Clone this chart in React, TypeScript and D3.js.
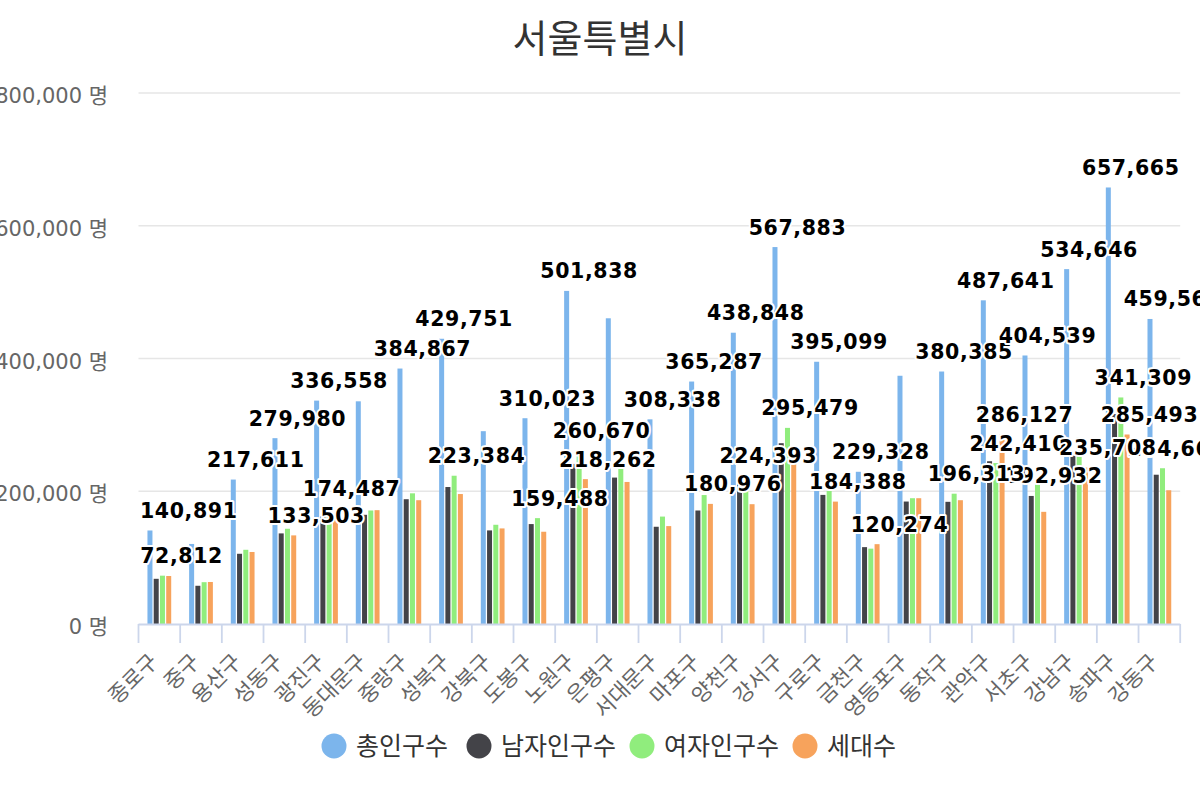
import React from 'react';
import * as d3 from 'd3';

const categories = ['종로구','중구','용산구','성동구','광진구','동대문구','중랑구','성북구','강북구','도봉구','노원구','은평구','서대문구','마포구','양천구','강서구','구로구','금천구','영등포구','동작구','관악구','서초구','강남구','송파구','강동구'];
const seriesNames = ['총인구수','남자인구수','여자인구수','세대수'];
const seriesColors = ['#7cb5ec','#434348','#90ed7d','#f7a35c'];

const totalPop = [140891,120600,217611,279980,336558,335500,384867,429751,290500,310023,501838,460600,308338,365287,438848,567883,395099,229328,374000,380385,487641,404539,534646,657665,459564];
const malePop = [68079,57600,105800,136500,162071,164500,188000,206367,141000,150535,241168,220600,146500,171000,214455,272404,194500,115800,184500,184072,245231,192932,254000,316356,224902];
const femalePop = [72812,63000,111811,143480,174487,171000,196867,223384,149500,159488,260670,240000,161838,194287,224393,295479,200599,113528,189500,196313,242410,211607,280646,341309,234662];
const households = [72300,63300,108500,133503,163000,171500,186500,195800,144000,139000,218262,214000,147500,180976,180500,268000,184388,120274,189500,186500,286127,169000,235708,285493,201500];

const yTicks = [0,200000,400000,600000,800000];

// which data labels are visible (category indices), per series
const shownTotal = [0,2,3,4,6,7,9,10,12,13,14,15,16,17,19,20,21,22,23,24];
const shownMale = [21];
const shownFemale = [0,4,7,9,10,14,15,19,20,23,24];
const shownHouseholds = [3,10,13,16,17,20,22,23];

const LATIN = '"DejaVu Sans", "Noto Sans CJK KR", sans-serif';
const KR = '"Noto Sans CJK KR", "DejaVu Sans", sans-serif';

export default function App() {
  const plotLeft = 138.5, plotRight = 1180.2, plotTop = 93, plotBottom = 624;
  const x0 = d3.scaleBand<string>().domain(categories).range([plotLeft, plotRight]);
  const bw = x0.bandwidth();
  const x1 = d3.scaleBand<string>().domain(['0','1','2','3']).range([bw * 0.2, bw * 0.8]);
  const barW = x1.bandwidth() * 0.8;
  const y = d3.scaleLinear().domain([0, 800000]).range([plotBottom, plotTop]);
  const fmt = d3.format(',');
  const series = [totalPop, malePop, femalePop, households];
  const shown = [shownTotal, shownMale, shownFemale, shownHouseholds];
  const center = (ci: number, si: number) => (x0(categories[ci]) as number) + (x1(String(si)) as number) + x1.bandwidth() / 2;
  const measured = (s: string) => s.split('').reduce((a, c) => a + (c === ',' ? 4.6 : 8), 0);

  const tickXs = d3.range(categories.length + 1).map(i => plotLeft + i * x0.step());

  // legend layout
  const itemW = seriesNames.map((n, i) => 73 + 18 * n.length - (i === seriesNames.length - 1 ? 37 : 0));
  const legendW = d3.sum(itemW);
  let lx = 600 - legendW / 2;
  const legendItems = seriesNames.map((n, i) => {
    const cx = lx + 14.5;
    lx += itemW[i];
    return { n, cx, color: seriesColors[i] };
  });

  return (
    <svg width={1200} height={800} style={{ position: 'absolute', left: 0, top: 0, background: '#fff' }}>
      <rect x={0} y={0} width={1200} height={800} fill="#fff" />
      <text x={600} y={52} textAnchor="middle" fontFamily={KR} fontSize={38} fill="#333333">서울특별시</text>

      {yTicks.map(t => (
        <g key={t}>
          {t > 0 && <line x1={plotLeft} x2={plotRight} y1={y(t)} y2={y(t)} stroke="#e6e6e6" strokeWidth={1.6} />}
          <text x={108} y={y(t) + 10} textAnchor="end" fontFamily={LATIN} fontSize={21} fill="#666666">{fmt(t)} 명</text>
        </g>
      ))}

      {series.map((vals, si) => (
        <g key={si}>
          {vals.map((v, ci) => (
            <rect key={ci} x={center(ci, si) - barW / 2} y={y(v)} width={barW} height={plotBottom - y(v)} fill={seriesColors[si]} />
          ))}
        </g>
      ))}

      <line x1={plotLeft} x2={plotRight} y1={plotBottom + 0.5} y2={plotBottom + 0.5} stroke="#ccd6eb" strokeWidth={1.8} />
      {tickXs.map((tx, i) => (
        <line key={i} x1={tx} x2={tx} y1={plotBottom} y2={plotBottom + 19} stroke="#ccd6eb" strokeWidth={1.8} />
      ))}

      {categories.map((c, ci) => {
        const cx = (x0(c) as number) + bw / 2;
        return (
          <text key={c} transform={`translate(${cx},${663}) rotate(-45)`} textAnchor="end" fontFamily={KR} fontSize={21.5} fill="#666666">{c}</text>
        );
      })}

      {series.map((vals, si) => (
        <g key={'l' + si}>
          {shown[si].map(ci => {
            const s = fmt(vals[ci]);
            const mw = measured(s);
            let left = center(ci, si) - mw / 2;
            left = Math.max(plotLeft + 1.5, Math.min(plotRight - mw, left));
            return (
              <text key={ci} x={left} y={y(vals[ci]) - 12.5} fontFamily={LATIN} fontWeight="bold" fontSize={20.5} letterSpacing={0.6}
                fill="#000000" stroke="#ffffff" strokeWidth={4} strokeLinejoin="round" style={{ paintOrder: 'stroke' }}>{s}</text>
            );
          })}
        </g>
      ))}

      {legendItems.map(it => (
        <g key={it.n}>
          <circle cx={it.cx} cy={746} r={12.5} fill={it.color} />
          <text x={it.cx + 22} y={755} fontFamily={KR} fontSize={25} fill="#333333">{it.n}</text>
        </g>
      ))}
    </svg>
  );
}
